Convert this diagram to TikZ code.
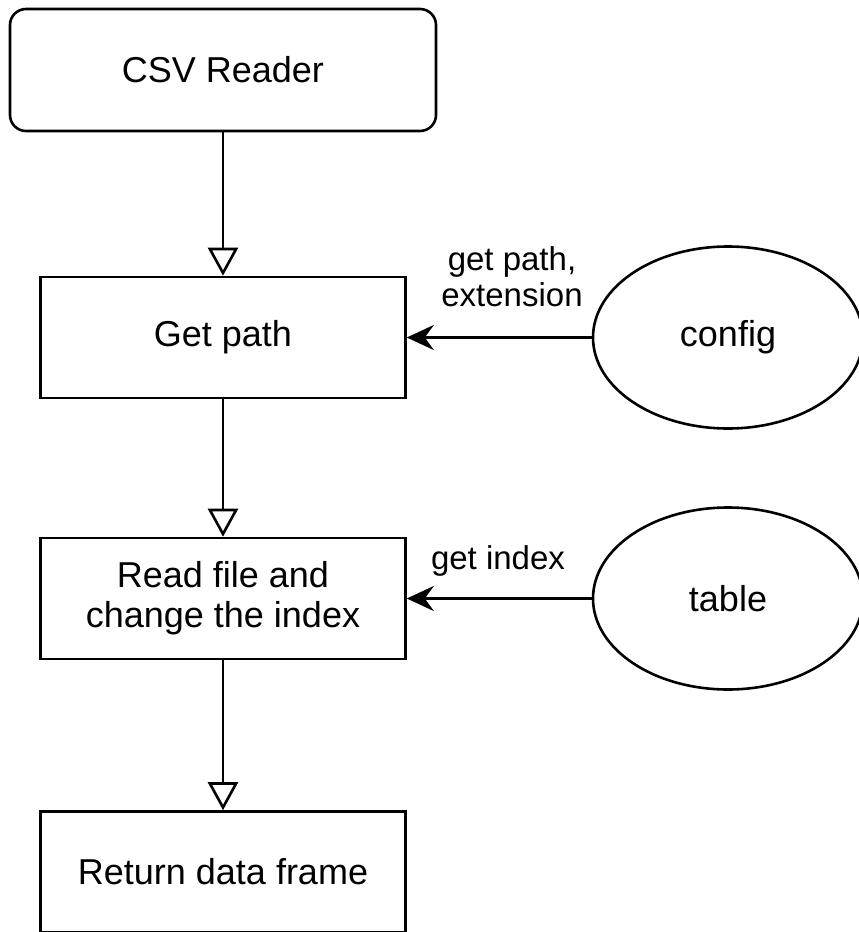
\documentclass[tikz,border=0pt]{standalone}
\usepackage{fontspec}
\setmainfont{Liberation Sans}
\usetikzlibrary{arrows.meta,shapes.geometric}
\begin{document}
\begin{tikzpicture}[x=1pt,y=-1pt,
  box/.style={draw, line width=2.6pt, minimum width=365pt, minimum height=121pt,
    inner sep=0pt, align=center, font=\fontsize{36}{40}\selectfont},
  startbox/.style={box, rounded corners=16pt, minimum width=426pt, minimum height=122pt},
  source/.style={draw, ellipse, line width=2.6pt, minimum width=270pt, minimum height=182pt,
    inner sep=0pt, font=\fontsize{36}{40}\selectfont},
  flow/.style={line width=2.6pt, -{Triangle[open, length=28pt, width=30pt, fill=white]}},
  feed/.style={line width=2.6pt, -{Stealth[length=27pt, width=25pt, inset=9pt]}},
  lbl/.style={align=center, inner sep=0pt, font=\fontsize{33}{36}\selectfont}]
\useasboundingbox (0,0) rectangle (859,932);

% main flow
\node[startbox] (csv)  at (223,70)      {CSV Reader};
\node[box]      (path) at (223,337.5)   {Get path};
\node[box]      (read) at (223,598.5)   {Read file and\\change the index};
\node[box]      (ret)  at (223,872)     {Return data frame};

% inputs
\node[source] (config) at (728,337.5) {config};
\node[source] (table)  at (728,598.5) {table};

% edge labels
\node[lbl] (lpath)  at (512,277) {get path,\\extension};
\node[lbl] (lindex) at (498,561) {get index};

\draw[flow] (csv)  -- (path);
\draw[flow] (path) -- (read);
\draw[flow] (read) -- (ret);

\draw[feed] (config) -- (path);
\draw[feed] (table)  -- (read);
\end{tikzpicture}
\end{document}
